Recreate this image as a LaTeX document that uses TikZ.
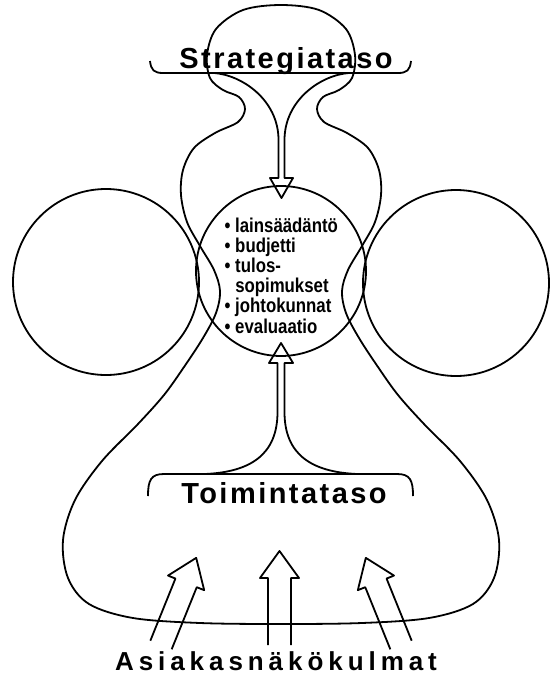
\documentclass[tikz,border=0pt]{standalone}
\usepackage{fontspec}
\setmainfont{Liberation Sans}
\newfontfamily\levelfont{Liberation Sans}[UprightFont={* Bold},LetterSpace=8.5]
\newfontfamily\viewfont{Liberation Sans}[UprightFont={* Bold},LetterSpace=19]
\newfontfamily\listfont{Liberation Sans}[UprightFont={* Bold},FakeStretch=0.84]

\begin{document}
\begin{tikzpicture}[x=1pt,y=-1pt,
  outline/.style={line width=1.8pt,line join=round},
  levellabel/.style={font=\levelfont\fontsize{29}{34}\selectfont,inner sep=0pt,anchor=base},
  listline/.style={font=\listfont\fontsize{20}{24}\selectfont,inner sep=0pt,anchor=base west},
  viewarrow/.pic={\draw[outline] (-11.5,0) -- (-11.5,-67) -- (-19.5,-67) -- (0,-94) -- (19.5,-67) -- (11.5,-67) -- (11.5,0);}]
\useasboundingbox (0,0) rectangle (553,677);
% outline of both levels
\draw[outline] plot[smooth cycle,tension=0.55] coordinates {
  (281,5) (243,10) (216,29) (207,55) (210,78) (223,90) (239,97) (245,109) (238,122) (215,133)
  (194,148) (183,170) (181,195) (187,222) (200,246) (214,270) (220,291) (216,313) (203,338)
  (184,367) (164,395) (138,424) (102,461) (75,500) (63,540) (68,578) (89,604) (133,618) (200,623)
  (281,624)
  (362,623) (429,618) (473,604) (494,578) (499,540) (487,500) (460,461) (424,424) (398,395)
  (378,367) (359,338) (346,313) (342,291) (348,270) (362,246) (375,222) (381,195) (379,170)
  (368,148) (347,133) (324,122) (317,109) (323,97) (339,90) (352,78) (355,55) (346,29) (319,10)};
% circles
\node[draw,circle,outline,minimum size=186pt,inner sep=0pt] (leftcircle) at (106,282) {};
\node[draw,circle,outline,minimum size=186pt,inner sep=0pt] (rightcircle) at (456,283) {};
\node[draw,circle,outline,minimum size=170pt,inner sep=0pt] (hub) at (281,271) {};
% brackets
\draw[outline] (150,61) .. controls (151,70) and (154,73) .. (163,73) -- (398,73) .. controls (407,73) and (410,70) .. (411,61);
\draw[outline] (148,496) .. controls (148,480) and (151,474) .. (164,474) -- (397,474) .. controls (410,474) and (413,480) .. (413,496);
% arrows into the hub
\draw[outline] (214,73) .. controls (242,75) and (278.5,100) .. (278.5,140) -- (278.5,178) -- (270,178) -- (281.5,198) -- (293,178) -- (284.5,178) -- (284.5,140) .. controls (284.5,100) and (321,75) .. (349,73);
\draw[outline] (205,474) .. controls (250,472) and (277.5,455) .. (277.5,412) -- (277.5,363) -- (269,363) -- (281,343) -- (293,363) -- (284.5,363) -- (284.5,412) .. controls (284.5,455) and (312,472) .. (357,474);
% customer arrows
\pic[rotate=-22] at (161,645) {viewarrow};
\pic at (279.5,645) {viewarrow};
\pic[rotate=22] at (401,645) {viewarrow};
% labels
\node[levellabel] (strategy) at (286,68) {Strategiataso};
\node[levellabel] (operations) at (284,503) {Toimintataso};
\node[levellabel,font=\viewfont\fontsize{26}{30}\selectfont] (views) at (276,670) {Asiakasnäkökulmat};
\foreach \entry [count=\i] in {\textbullet\ lainsäädäntö,\textbullet\ budjetti,\textbullet\ tulos-,\phantom{\textbullet\ }sopimukset,\textbullet\ johtokunnat,\textbullet\ evaluaatio}
  \node[listline] (item\i) at (224.5,{232+20.2*(\i-1)}) {\entry};
\end{tikzpicture}
\end{document}
